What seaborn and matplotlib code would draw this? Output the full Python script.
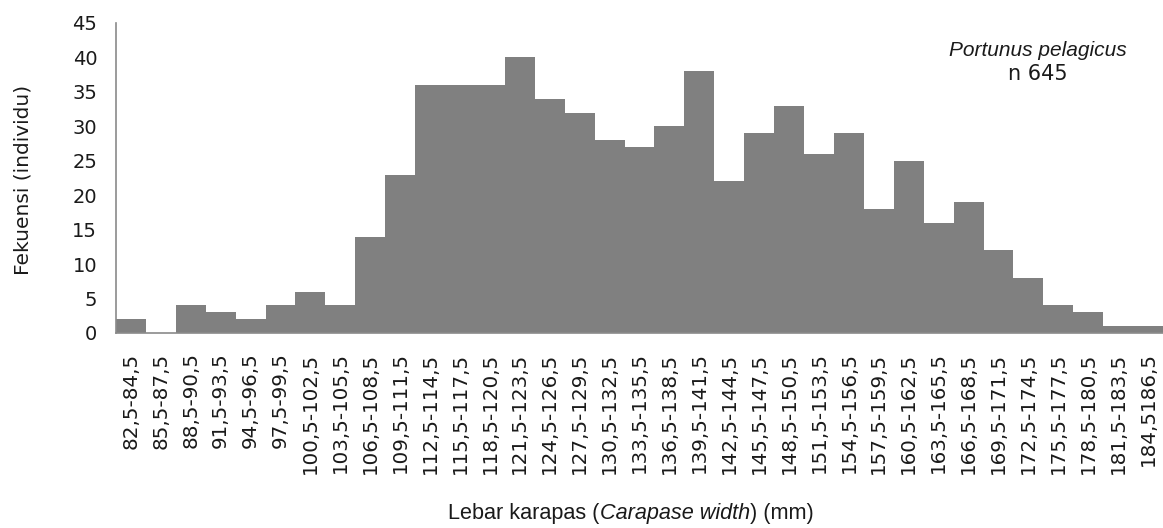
import numpy as np
import matplotlib
matplotlib.use("Agg")
import matplotlib.pyplot as plt
import seaborn as sns
from matplotlib import font_manager

# kelas lebar karapas (mm) dan frekuensi
kelas = ["82,5-84,5", "85,5-87,5", "88,5-90,5", "91,5-93,5", "94,5-96,5",
         "97,5-99,5", "100,5-102,5", "103,5-105,5", "106,5-108,5", "109,5-111,5",
         "112,5-114,5", "115,5-117,5", "118,5-120,5", "121,5-123,5", "124,5-126,5",
         "127,5-129,5", "130,5-132,5", "133,5-135,5", "136,5-138,5", "139,5-141,5",
         "142,5-144,5", "145,5-147,5", "148,5-150,5", "151,5-153,5", "154,5-156,5",
         "157,5-159,5", "160,5-162,5", "163,5-165,5", "166,5-168,5", "169,5-171,5",
         "172,5-174,5", "175,5-177,5", "178,5-180,5", "181,5-183,5", "184,5186,5"]
frekuensi = [2, 0, 4, 3, 2, 4, 6, 4, 14, 23, 36, 36, 36, 40, 34, 32, 28, 27, 30, 38,
             22, 29, 33, 26, 29, 18, 25, 16, 19, 12, 8, 4, 3, 1, 1]
y_ticks = [0, 5, 10, 15, 20, 25, 30, 35, 40, 45]
spesies = "Portunus pelagicus"
n_label = "n 645"

sns.set_style("white")
installed = {f.name for f in font_manager.fontManager.ttflist}
narrow = "Liberation Sans Narrow" if "Liberation Sans Narrow" in installed else "Liberation Sans"
plt.rcParams["font.family"] = ["DejaVu Sans"]

W, H = 1163, 528
fig = plt.figure(figsize=(W / 100, H / 100), dpi=100)
ax = fig.add_axes([116 / W, 195 / H, 1 - 116 / W, 310 / H])

sns.barplot(x=kelas, y=frekuensi, color="#808080", saturation=1, width=1,
            edgecolor="none", linewidth=0, ax=ax)

ax.set_ylim(0, 45)
ax.set_xlim(-0.5, 34.28)
ax.set_yticks(y_ticks)
ax.set_xticks(np.arange(len(kelas) + 1) - 0.5, minor=True)
ax.set_xticks(range(len(kelas)))
ax.set_xticklabels(kelas, rotation=90)

grey = "#8a8a8a"
ax.tick_params(axis="y", length=6.5, width=1, color=grey, labelsize=14,
               labelcolor="#1a1a1a", pad=7)
ax.tick_params(axis="x", which="major", length=0, labelsize=14.3,
               labelcolor="#1a1a1a", pad=14)
ax.tick_params(axis="x", which="minor", length=8.6, width=1, color=grey, direction="out")

sns.despine(ax=ax)
for s in ["left", "bottom"]:
    ax.spines[s].set_color(grey)
    ax.spines[s].set_linewidth(1.2)
ax.set_xlabel("")
ax.set_ylabel("")

fig.text(23 / W, 1 - 180 / H, "Fekuensi (individu)", rotation=90, ha="center",
         va="center", fontsize=14.5, color="#1a1a1a")

# judul sumbu x dengan bagian miring
t1 = fig.text(0, 1 - 513 / H, "Lebar karapas (", ha="left", va="center",
              fontsize=15.6, family=narrow, color="#1a1a1a")
a2 = ax.annotate("Carapase width", xy=(1, 0), xycoords=t1, ha="left", va="bottom",
                 fontsize=15.6, family=narrow, style="italic", color="#1a1a1a",
                 annotation_clip=False)
a3 = ax.annotate(") (mm)", xy=(1, 0), xycoords=a2, ha="left", va="bottom",
                 fontsize=15.6, family=narrow, color="#1a1a1a", annotation_clip=False)

fig.text(1038 / W, 1 - 51 / H, spesies, ha="center", va="center", fontsize=15,
         family=narrow, style="italic", color="#1a1a1a")
fig.text(1038 / W, 1 - 74 / H, n_label, ha="center", va="center", fontsize=15,
         color="#1a1a1a")

fig.canvas.draw()
r = fig.canvas.get_renderer()
x0 = t1.get_window_extent(r).x0
x1 = a3.get_window_extent(r).x1
t1.set_x((631 - (x1 - x0) / 2) / W)

fig.savefig("out.png", dpi=100)
